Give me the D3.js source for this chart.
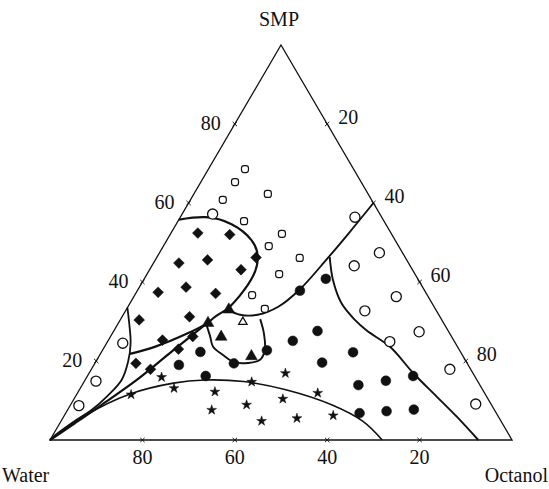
<!DOCTYPE html>
<html>
<head>
<meta charset="utf-8">
<script src="https://cdn.jsdelivr.net/npm/d3@7"></script>
<style>
  body { margin: 0; background: #fff; }
  text { font-family: "Liberation Serif", "DejaVu Serif", serif; fill: #111; }
</style>
</head>
<body>
<svg width="549" height="489"></svg>
<script>
// composition points as [SMP %, Octanol %]; Water is the remainder
const tickValues = [20, 40, 60, 80];

const openCirclesLeft = [[24.5, 3.5], [14.9, 2.5], [8.7, 1.9], [57.2, 6.6]];
const openCirclesRight = [[56.4, 37.8], [47.4, 47.6], [44.1, 43.8], [36.3, 56.8], [32.7, 51.8],
  [27.4, 66.2], [24.9, 61.1], [17.9, 77.6], [9.1, 87.6]];
const openSquares = [[68.6, 7.9], [65.3, 7.4], [60.8, 7.0], [62.3, 16.0], [55.4, 14.3], [52.2, 24.1],
  [49.1, 22.8], [46.1, 31.0], [42.0, 28.6], [36.7, 25.4], [33.2, 29.9]];
const openTriangles = [[29.9, 26.8]];
const diamonds = [[52.4, 5.8], [52.0, 12.9], [44.8, 5.5], [45.6, 11.3], [43.1, 19.8], [46.2, 21.5],
  [37.4, 4.7], [38.7, 10.1], [37.1, 17.3], [30.4, 4.1], [31.2, 14.6], [25.3, 11.7], [23.0, 16.3],
  [26.2, 17.8], [19.4, 8.9], [17.9, 12.8]];
const triangles = [[33.0, 22.2], [29.6, 19.4], [26.1, 24.0], [21.2, 33.0]];
const dots = [[40.8, 39.3], [37.8, 35.2], [27.6, 44.1], [25.1, 40.0], [22.7, 35.6], [19.4, 30.1],
  [22.3, 21.4], [19.0, 18.4], [16.2, 25.6], [22.2, 54.5], [19.6, 49.1], [13.9, 59.8], [15.0, 65.2],
  [16.2, 70.5], [6.8, 63.6], [7.3, 69.2], [7.7, 74.9]];
const stars = [[15.9, 16.2], [13.1, 20.3], [12.2, 29.6], [16.9, 42.5], [11.9, 52.0], [10.4, 45.2],
  [8.9, 38.1], [7.6, 31.2], [4.8, 43.4], [5.5, 50.7], [6.2, 58.2], [11.5, 11.8], [14.7, 36.3]];

// phase boundaries
const lensCurve = [[33.5, 0], [29.5, 2.4], [24.5, 5.2], [19.8, 7.0], [15.2, 7.9], [11.0, 6.8],
  [7.6, 5.2], [5.1, 3.2], [0.8, 0.3], [0, 0]];
const diamondTop = [[55.8, 0], [56.4, 5.5], [54.6, 12.0], [50.6, 18.3], [46.3, 21.8], [41.5, 23.2],
  [36.5, 22.8], [33.2, 21.9]];
const diamondBottom = [[33.2, 21.9], [31.3, 20.2], [29.4, 19.1], [27.0, 16.3], [23.7, 11.1], [21.8, 6.4]];
const waterLine = [[0, 0], [4.3, 3.3], [8.6, 6.5], [15.4, 11.3], [22.5, 15.2], [29.4, 19.1]];
const starCurve = [[0, 0], [6.3, 4.6], [11.6, 11.4], [14.4, 19.5], [15.2, 25.9], [14.8, 34.5],
  [12.7, 44.7], [8.9, 56.5], [4.7, 65.4], [0, 71.9]];
const upperDotCurve = [[33.0, 22.0], [31.7, 25.3], [31.7, 29.1], [33.8, 32.6], [38.1, 35.0],
  [46.1, 37.1], [52.4, 38.5], [60, 40]];
const loopCurve = [[29.4, 19.1], [26.3, 21.5], [23.6, 23.5], [21.5, 26.7], [19.7, 30.0], [19.5, 33.1],
  [20.3, 35.3], [22.8, 35.1], [27.0, 32.8], [30.6, 30.2]];
const rightCurve = [[46.3, 37.4], [40.5, 41.0], [34.6, 45.8], [30.4, 50.8], [27.7, 54.7], [23.6, 61.8],
  [16.9, 70.2], [11.0, 78.2], [5.9, 85.1], [0, 92.7]];

const svg = d3.select('svg');

// horizontal position in the unit triangle, and SMP height
const xScale = d3.scaleLinear().domain([0, 100]).range([50, 512]);
const yScale = d3.scaleLinear().domain([0, 100]).range([440, 45]);
const project = d => [xScale(d[1] + d[0] / 2), yScale(d[0])];

// outer triangle
const vertices = [[0, 0], [0, 100], [100, 0]];
svg.append('path')
  .attr('d', d3.line()(vertices.map(project)) + 'Z')
  .attr('fill', 'none').attr('stroke', '#111').attr('stroke-width', 1.3);

// edge ticks and labels
const tickSym = d3.symbol().type(d3.symbolTimes).size(14);
const edges = [
  { pos: v => [0, 100 - v], dx: 0, dy: 24, anchor: 'middle' },   // base, Water %
  { pos: v => [v, 0], dx: -14, dy: 6, anchor: 'end' },            // left, SMP %
  { pos: v => [100 - v, v], dx: 11, dy: 0, anchor: 'start' }      // right, Octanol %
];
edges.forEach(e => {
  const g = svg.append('g');
  g.selectAll('path').data(tickValues).enter().append('path')
    .attr('d', tickSym)
    .attr('transform', v => 'translate(' + project(e.pos(v)) + ')')
    .attr('fill', 'none').attr('stroke', '#111').attr('stroke-width', 1);
  g.selectAll('text').data(tickValues).enter().append('text')
    .attr('x', v => project(e.pos(v))[0] + e.dx)
    .attr('y', v => project(e.pos(v))[1] + e.dy)
    .attr('text-anchor', e.anchor)
    .attr('font-size', 20)
    .text(v => v);
});

svg.append('text').attr('x', 279).attr('y', 26).attr('text-anchor', 'middle').attr('font-size', 20).text('SMP');
svg.append('text').attr('x', 2).attr('y', 482).attr('font-size', 20).text('Water');
svg.append('text').attr('x', 548).attr('y', 482).attr('text-anchor', 'end').attr('font-size', 20).text('Octanol');

// boundary curves
const curve = d3.line().x(d => project(d)[0]).y(d => project(d)[1]).curve(d3.curveCatmullRom);
const smooth = d3.line().x(d => project(d)[0]).y(d => project(d)[1]).curve(d3.curveNatural);
[[lensCurve, 1.8, curve], [diamondTop, 2.2, smooth], [diamondBottom, 2.2, curve], [waterLine, 2.2, curve],
 [starCurve, 1.6, curve], [upperDotCurve, 1.9, curve], [loopCurve, 1.9, curve],
 [rightCurve, 1.9, curve]].forEach(([pts, w, gen]) => {
  svg.append('path').attr('d', gen(pts))
    .attr('fill', 'none').attr('stroke', '#111').attr('stroke-width', w);
});

// markers
function drawSymbols(data, type, size, filled, rotate) {
  svg.append('g').selectAll('path').data(data).enter().append('path')
    .attr('d', d3.symbol().type(type).size(size))
    .attr('transform', d => 'translate(' + project(d) + ')' + (rotate ? ' rotate(' + rotate + ')' : ''))
    .attr('fill', filled ? '#111' : '#fff')
    .attr('stroke', '#111')
    .attr('stroke-width', filled ? 0.5 : 1.3);
}
drawSymbols(openCirclesLeft.concat(openCirclesRight), d3.symbolCircle, 80, false);
drawSymbols(openTriangles, d3.symbolTriangle, 30, false);
drawSymbols(diamonds, d3.symbolSquare, 58, true, 45);
drawSymbols(triangles, d3.symbolTriangle, 60, true);
drawSymbols(dots, d3.symbolCircle, 76, true);
drawSymbols(stars, d3.symbolStar, 30, true);

svg.append('g').selectAll('rect').data(openSquares).enter().append('rect')
  .attr('x', d => project(d)[0] - 3.5).attr('y', d => project(d)[1] - 3.5)
  .attr('width', 7).attr('height', 7).attr('rx', 2.5)
  .attr('fill', '#fff').attr('stroke', '#111').attr('stroke-width', 1.2);
</script>
</body>
</html>
